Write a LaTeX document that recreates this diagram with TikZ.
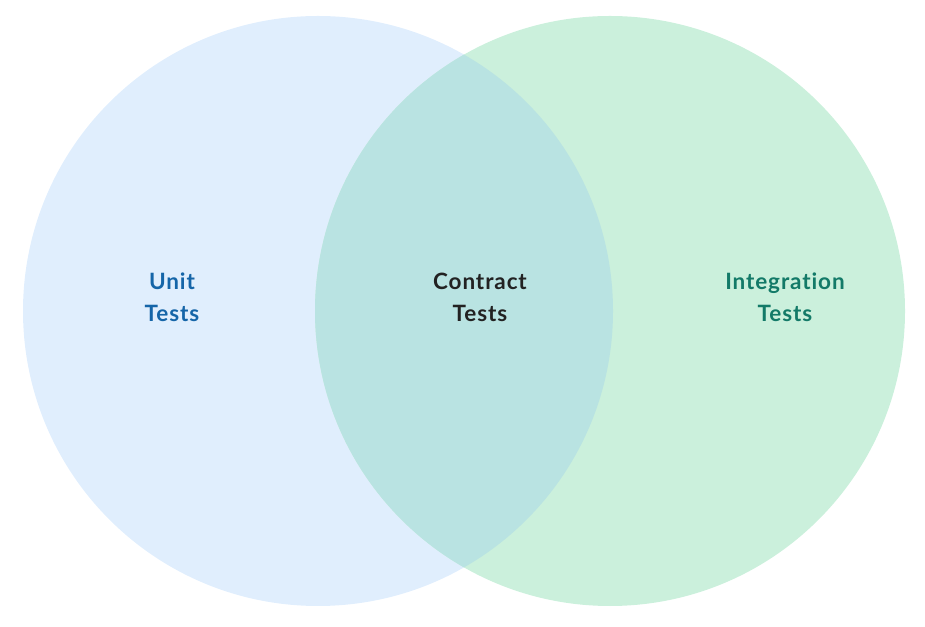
\documentclass[tikz,border=0pt]{standalone}
\usepackage{fontspec}
\setmainfont{Lato}[Ligatures={NoCommon}, LetterSpace=4]
\definecolor{unitfill}{HTML}{E0EEFD}
\definecolor{intfill}{HTML}{CBF0DC}
\definecolor{bothfill}{HTML}{B9E3E2}
\definecolor{unittext}{HTML}{1565A8}
\definecolor{bothtext}{HTML}{222222}
\definecolor{inttext}{HTML}{137A68}
\begin{document}
\begin{tikzpicture}[x=1pt, y=1pt]
        \useasboundingbox (0, 0) rectangle (925, 626);
        \begin{scope}[every node/.style={circle, minimum size=590pt, inner sep=0pt}]
            \node[fill=unitfill] (unit) at (318, 315) {};
            \node[fill=intfill] (integ) at (610, 315) {};
        \end{scope}
        \begin{scope}
            \clip (unit.center) circle (295);
            \fill[bothfill] (integ.center) circle (295);
        \end{scope}
        \begin{scope}[every node/.style={align=center, font=\bfseries\fontsize{22.5}{32}\selectfont}]
            \node[text=unittext] (tunit) at (172, 329) {Unit\\Tests};
            \node[text=bothtext] (tboth) at (480, 329) {Contract\\Tests};
            \node[text=inttext] (tinteg) at (785, 329) {Integration\\Tests};
        \end{scope}
    \end{tikzpicture}
\end{document}
